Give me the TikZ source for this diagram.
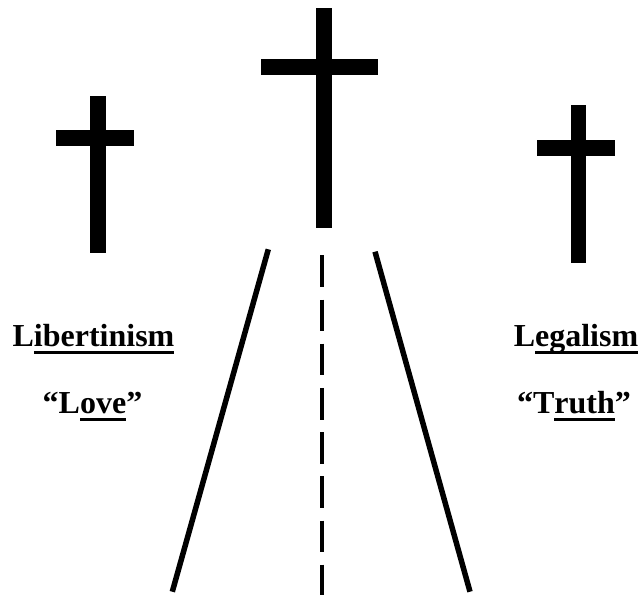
\documentclass[tikz,border=0pt]{standalone}
\usepackage{fontspec}
\setmainfont{Liberation Serif}
\newcommand\myul[1]{\setbox0\hbox{#1}\rlap{\rule[-7pt]{\wd0}{3pt}}\box0}
\tikzset{
  crossbar/.style={fill=black, draw=none},
  roadedge/.style={line width=5.5pt, line cap=butt},
  roadmid/.style={line width=4pt, dash pattern=on 31.7pt off 12.5pt},
  label/.style={anchor=base, inner sep=0pt, font=\fontsize{32}{38}\selectfont\bfseries}
}
\begin{document}
\begin{tikzpicture}[x=1pt, y=-1pt]
\useasboundingbox (0,0) rectangle (644,602);
% crosses
\fill[crossbar] (315.7,8) rectangle (331.7,228);
\fill[crossbar] (261.3,59.3) rectangle (378.3,75.3);
\fill[crossbar] (90,96) rectangle (105.7,253.3);
\fill[crossbar] (56.3,130.3) rectangle (134.3,146);
\fill[crossbar] (570.7,105) rectangle (586.3,262.7);
\fill[crossbar] (537.3,140) rectangle (615,156);
% road
\coordinate (lt) at (268.3,249.3);
\coordinate (lb) at (172.3,591.7);
\coordinate (rt) at (375,251.7);
\coordinate (rb) at (470,591.7);
\coordinate (mt) at (321.7,255.3);
\coordinate (mb) at (321.7,595);
\draw[roadedge] (lt) -- (lb);
\draw[roadedge] (rt) -- (rb);
\draw[roadmid] (mt) -- (mb);
% labels
\node[label] (lib) at (93.5,346.5) {L\myul{ibertinism}};
\node[label] (love) at (92.5,413.5) {``L\myul{ove}''};
\node[label] (leg) at (576,346.5) {L\myul{egalism}};
\node[label] (truth) at (574,413.5) {``T\myul{ruth}''};
\end{tikzpicture}
\end{document}
